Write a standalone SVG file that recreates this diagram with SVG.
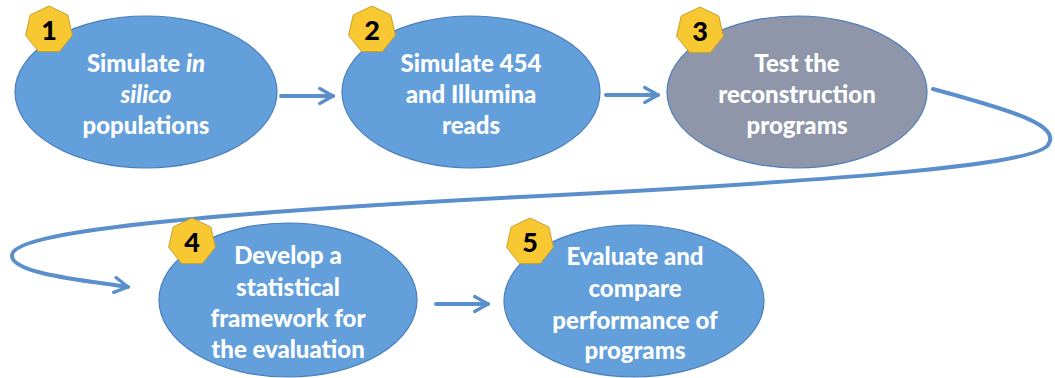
<svg xmlns="http://www.w3.org/2000/svg" width="1055" height="378" viewBox="0 0 1055 378">
  <style>
    .step { fill: #629fdb; stroke: #4a7ebb; stroke-width: 1.2; }
    .step.active { fill: #8f96aa; }
    .badge { fill: #f7c832; stroke: #c9a02a; stroke-width: 1; }
    .num { font-family: Lato, "Liberation Sans", sans-serif; font-weight: 900; font-size: 27px; fill: #000; text-anchor: middle; }
    .label { font-family: Lato, "Liberation Sans", sans-serif; font-weight: 900; font-size: 24px; fill: #fff; text-anchor: middle; }
    .conn { fill: none; stroke: #5b8fcc; stroke-width: 4; stroke-linecap: round; }
  </style>
  <defs>
    <marker id="chevron" viewBox="0 0 12 12" refX="10" refY="6" markerWidth="5" markerHeight="5" markerUnits="strokeWidth" orient="auto">
      <path d="M2,1.5 L10,6 L2,10.5" fill="none" stroke="#5b8fcc" stroke-width="2" stroke-linecap="round" stroke-linejoin="round"/>
    </marker>
    <polygon id="hept" points="0,-24 18.8,-15 23.4,5.3 10.4,21.6 -10.4,21.6 -23.4,5.3 -18.8,-15"/>
  </defs>

  <!-- connectors -->
  <g id="connectors">
    <line class="conn" x1="281" y1="96" x2="333" y2="96" marker-end="url(#chevron)"/>
    <line class="conn" x1="606" y1="95" x2="658" y2="95" marker-end="url(#chevron)"/>
    <path class="conn" d="M933,89 C1010,110 1062,125 1048,145 C1035,165 850,180 520,197 C190,214 14,232 12,255 C10,274 90,281 128,287" marker-end="url(#chevron)"/>
    <line class="conn" x1="436" y1="304" x2="488" y2="304" marker-end="url(#chevron)"/>
  </g>

  <g id="step1">
    <ellipse class="step" cx="146" cy="92" rx="131" ry="76"/>
    <use href="#hept" class="badge" x="49" y="30"/>
    <text class="num" x="49" y="40">1</text>
    <text class="label" x="146" y="72">Simulate <tspan font-style="italic">in</tspan></text>
    <text class="label" x="146" y="103" font-style="italic">silico</text>
    <text class="label" x="146" y="134">populations</text>
  </g>

  <g id="step2">
    <ellipse class="step" cx="471" cy="92" rx="129" ry="76"/>
    <use href="#hept" class="badge" x="372" y="30"/>
    <text class="num" x="372" y="40">2</text>
    <text class="label" x="471" y="72">Simulate 454</text>
    <text class="label" x="471" y="103">and Illumina</text>
    <text class="label" x="471" y="134">reads</text>
  </g>

  <g id="step3">
    <ellipse class="step active" cx="797" cy="92" rx="130" ry="76"/>
    <use href="#hept" class="badge" x="700" y="31"/>
    <text class="num" x="700" y="41">3</text>
    <text class="label" x="797" y="72">Test the</text>
    <text class="label" x="797" y="103">reconstruction</text>
    <text class="label" x="797" y="134">programs</text>
  </g>

  <g id="step4">
    <ellipse class="step" cx="288" cy="300" rx="129" ry="77"/>
    <use href="#hept" class="badge" x="192" y="242"/>
    <text class="num" x="192" y="252">4</text>
    <text class="label" x="288" y="264">Develop a</text>
    <text class="label" x="288" y="296">statistical</text>
    <text class="label" x="288" y="327">framework for</text>
    <text class="label" x="288" y="358">the evaluation</text>
  </g>

  <g id="step5">
    <ellipse class="step" cx="634" cy="301" rx="130" ry="76"/>
    <use href="#hept" class="badge" x="530" y="242"/>
    <text class="num" x="530" y="252">5</text>
    <text class="label" x="635" y="265">Evaluate and</text>
    <text class="label" x="635" y="297">compare</text>
    <text class="label" x="635" y="329">performance of</text>
    <text class="label" x="635" y="359">programs</text>
  </g>
</svg>
